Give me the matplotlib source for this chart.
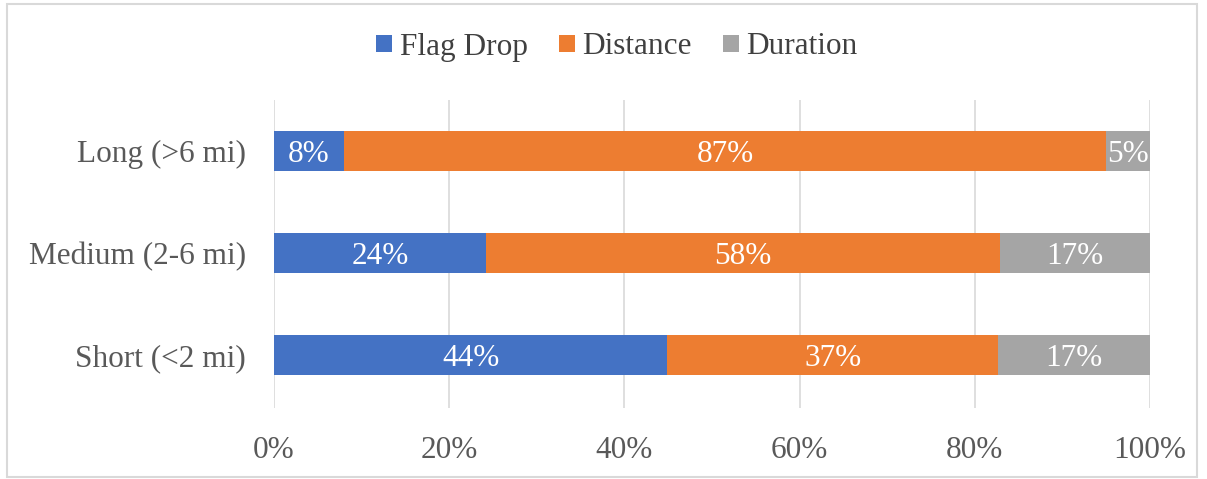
import matplotlib
matplotlib.use("Agg")
import matplotlib.pyplot as plt
from matplotlib.patches import Rectangle
import numpy as np

categories = ["Short (<2 mi)", "Medium (2-6 mi)", "Long (>6 mi)"]
series = ["Flag Drop", "Distance", "Duration"]
flag_drop = [44, 24, 8]
distance = [37, 58, 87]
duration = [17, 17, 5]
colors = ["#4472C4", "#ED7D31", "#A5A5A5"]
xticks = [0, 20, 40, 60, 80, 100]
xtick_labels = ["0%", "20%", "40%", "60%", "80%", "100%"]

plt.rcParams['font.family'] = ['Liberation Serif', 'DejaVu Serif']

fig = plt.figure(figsize=(12.07, 4.79), dpi=100)
ax = fig.add_axes([274/1207, 1-408/479, 876/1207, 308/479])

data = np.array([flag_drop, distance, duration], dtype=float)
totals = data.sum(axis=0)
pct = data / totals * 100
y = np.arange(len(categories))
left = np.zeros(len(categories))
for i, name in enumerate(series):
    bars = ax.barh(y, pct[i], left=left, height=0.39, color=colors[i], label=name, zorder=3)
    for j, b in enumerate(bars):
        ax.text(left[j] + pct[i][j] / 2, y[j], f"{int(data[i][j])}%", ha='center',
                va='center_baseline', color='white', fontsize=22.5, zorder=4)
    left += pct[i]

ax.set_xlim(0, 100)
ax.set_ylim(-0.52, 2.5)
ax.set_xticks(xticks)
ax.set_xticklabels(xtick_labels)
ax.set_yticks(y)
ax.set_yticklabels(categories)
ax.tick_params(axis='both', length=0, labelsize=22.5, labelcolor='#595959')
ax.tick_params(axis='x', pad=20)
ax.tick_params(axis='y', pad=20)
ax.grid(axis='x', color='#D9D9D9', linewidth=1.2, zorder=0)
for s in ax.spines.values():
    s.set_visible(False)

leg = fig.legend(loc='center', bbox_to_anchor=(617/1207, 1-47/479), ncol=3, frameon=False,
                 fontsize=22.5, handlelength=0.5, handleheight=0.5, handletextpad=0.25,
                 columnspacing=1.0)
for t in leg.get_texts():
    t.set_color('#404040')

fig.patches.append(Rectangle((7/1207, 2/479), 1190/1207, 473/479, transform=fig.transFigure,
                             fill=False, edgecolor='#D9D9D9', linewidth=1.5))

fig.savefig("out.png", dpi=100)
